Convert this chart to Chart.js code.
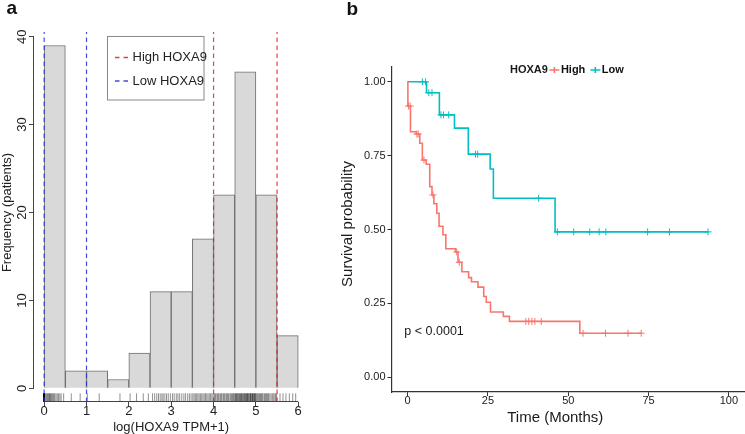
<!DOCTYPE html>
<html>
<head>
<meta charset="utf-8">
<script src="https://cdn.jsdelivr.net/npm/chart.js@4"></script>
<style>
  html, body { margin: 0; padding: 0; background: #fff; }
  #wrap { position: relative; width: 745px; height: 434px; overflow: hidden; }
  #histChart { position: absolute; left: 0; top: 0; }
  #kmChart { position: absolute; left: 335px; top: 0; }
</style>
</head>
<body>
<div id="wrap">
  <canvas id="histChart" width="330" height="434"></canvas>
  <canvas id="kmChart" width="410" height="434"></canvas>
</div>
<script>
'use strict';

// ---- panel a: histogram of log(HOXA9 TPM+1) ----
const binStarts = [0, 0.5, 1, 1.5, 2, 2.5, 3, 3.5, 4, 4.5, 5, 5.5];
const binWidth = 0.5;
const binCounts = [39, 2, 2, 1, 4, 11, 11, 17, 22, 36, 22, 6];
const lowCutoffs = [0, 1];
const highCutoffs = [4, 5.5];

// rug of individual patients (approximate)
const rugValues = [
  0, 0, 0, 0, 0, 0, 0, 0, 0, 0, 0, 0, 0, 0, 0, 0, 0, 0, 0, 0,
  0.02, 0.04, 0.06, 0.08, 0.1, 0.12, 0.13, 0.15, 0.17, 0.19, 0.21, 0.23, 0.25, 0.28, 0.31, 0.34, 0.37, 0.4, 0.46,
  0.64, 0.85,
  1.02, 1.3,
  1.79,
  2.03, 2.18, 2.34, 2.46,
  2.56, 2.61, 2.66, 2.7, 2.74, 2.78, 2.81, 2.85, 2.89, 2.93, 2.98,
  3.03, 3.07, 3.12, 3.16, 3.2, 3.25, 3.3, 3.34, 3.39, 3.43, 3.47,
  3.51, 3.54, 3.57, 3.6, 3.63, 3.66, 3.69, 3.72, 3.75, 3.78, 3.81, 3.84, 3.87, 3.9, 3.93, 3.96, 3.99,
  4.02, 4.04, 4.06, 4.09, 4.11, 4.13, 4.16, 4.18, 4.2, 4.23, 4.25, 4.27, 4.3, 4.32, 4.34, 4.36, 4.39, 4.41, 4.43, 4.45, 4.47, 4.49,
  4.51, 4.52, 4.54, 4.55, 4.57, 4.58, 4.6, 4.61, 4.63, 4.64, 4.66, 4.67, 4.69, 4.7, 4.72, 4.73, 4.75, 4.76,
  4.78, 4.79, 4.8, 4.81, 4.83, 4.84, 4.86, 4.87, 4.88, 4.89, 4.91, 4.92, 4.93, 4.94, 4.96, 4.97, 4.98, 4.99,
  5.01, 5.03, 5.05, 5.07, 5.09, 5.11, 5.13, 5.15, 5.17, 5.2, 5.22, 5.24, 5.26, 5.28, 5.3, 5.33, 5.36, 5.39, 5.42, 5.45, 5.47, 5.49,
  5.57, 5.64, 5.71, 5.79, 5.87, 5.94
];

// ---- panel b: Kaplan-Meier curves ----
const highTimes = [0, 0.1, 0.9, 2.7, 3.8, 4.6, 5.8, 6.9, 7.6, 8.2, 9.1, 9.8, 11.0, 11.9, 14.9, 15.7, 16.9, 19.0, 19.9, 21.9, 23.7, 24.5, 25.8, 29.8, 31.7, 53.6, 72.7];
const highSurv = [1, 0.918, 0.831, 0.823, 0.792, 0.735, 0.721, 0.645, 0.617, 0.587, 0.555, 0.511, 0.482, 0.435, 0.424, 0.389, 0.357, 0.337, 0.323, 0.305, 0.273, 0.254, 0.221, 0.206, 0.189, 0.149, 0.149];
const highCensor = [0.3, 0.8, 2.9, 3.3, 5.1, 7.9, 15.3, 16.1, 36.8, 37.7, 38.7, 39.6, 41.6, 54.6, 61.6, 68.6, 72.7];

const lowTimes = [0, 5.9, 9.9, 14.6, 18.9, 25.7, 26.7, 45.9, 93.5];
const lowSurv = [1, 0.963, 0.888, 0.843, 0.755, 0.705, 0.606, 0.492, 0.492];
const lowCensor = [4.6, 5.6, 6.6, 7.6, 10.4, 11.2, 12.8, 21.1, 21.8, 40.8, 46.6, 51.7, 56.7, 59.6, 61.7, 74.7, 81.5, 93.5];

const kmTicksX = [0, 25, 50, 75, 100];
const pValueText = 'p < 0.0001';

const FONT = '"Liberation Sans", Arial, Helvetica, sans-serif';
const HIGH_COL = '#F8766D';
const LOW_COL = '#00BFC4';
const DASH_RED = 'rgba(232, 28, 28, 0.85)';
const DASH_BLUE = 'rgba(40, 40, 215, 0.85)';

function survAt(times, surv, t) {
  let s = surv[0];
  for (let i = 0; i < times.length; i++) {
    if (times[i] <= t) s = surv[i];
  }
  return s;
}

// histogram y range (R adds 4% around 0..max)
const H_YMIN = -1.56, H_YMAX = 40.56;

function cutoffDataset(label, value, color) {
  return {
    type: 'line',
    label: label,
    data: [{ x: value, y: H_YMIN }, { x: value, y: H_YMAX }],
    borderColor: color,
    borderWidth: 1.2,
    borderDash: [4.5, 3.5],
    pointRadius: 0
  };
}

const histDecor = {
  id: 'histDecor',
  afterDraw(chart) {
    const { ctx, chartArea } = chart;
    const x = chart.scales.x, y = chart.scales.y;
    ctx.save();
    ctx.strokeStyle = '#444';
    ctx.lineWidth = 1;
    // axis lines only across the tick range
    const yt = y.ticks, xt = x.ticks;
    const ax = Math.round(chartArea.left) - 0.5;
    ctx.beginPath();
    ctx.moveTo(ax, y.getPixelForValue(yt[0].value));
    ctx.lineTo(ax, y.getPixelForValue(yt[yt.length - 1].value));
    const ay = Math.round(chartArea.bottom) - 0.5;
    ctx.moveTo(x.getPixelForValue(xt[0].value), ay);
    ctx.lineTo(x.getPixelForValue(xt[xt.length - 1].value), ay);
    ctx.stroke();

    // rotated y tick labels
    ctx.fillStyle = '#222';
    ctx.font = '13px ' + FONT;
    ctx.textAlign = 'center';
    ctx.textBaseline = 'middle';
    yt.forEach((t) => {
      ctx.save();
      ctx.translate(22, y.getPixelForValue(t.value));
      ctx.rotate(-Math.PI / 2);
      ctx.fillText(String(t.value), 0, 0);
      ctx.restore();
    });

    // axis titles
    const midY = (y.getPixelForValue(yt[0].value) + y.getPixelForValue(yt[yt.length - 1].value)) / 2;
    ctx.save();
    ctx.translate(7, midY);
    ctx.rotate(-Math.PI / 2);
    ctx.fillText('Frequency (patients)', 0, 0);
    ctx.restore();
    const midX = (x.getPixelForValue(xt[0].value) + x.getPixelForValue(xt[xt.length - 1].value)) / 2;
    ctx.fillText('log(HOXA9 TPM+1)', midX, 427.5);

    // legend box
    ctx.strokeStyle = '#8a8a8a';
    ctx.strokeRect(107.5, 36.5, 96.5, 63.5);
    const entries = [chart.data.datasets[0], chart.data.datasets[2]];
    entries.forEach((ds, i) => {
      const ly = 57.5 + i * 23.5;
      ctx.strokeStyle = ds.borderColor;
      ctx.lineWidth = 1.5;
      ctx.setLineDash([4.5, 4]);
      ctx.beginPath();
      ctx.moveTo(115, ly);
      ctx.lineTo(131, ly);
      ctx.stroke();
      ctx.setLineDash([]);
      ctx.textAlign = 'left';
      ctx.fillStyle = '#222';
      ctx.fillText(ds.label, 132.5, ly);
    });

    // panel letter
    ctx.font = 'bold 19px ' + FONT;
    ctx.textBaseline = 'alphabetic';
    ctx.fillStyle = '#111';
    ctx.fillText('a', 6.5, 13.5);
    ctx.restore();
  }
};

new Chart(document.getElementById('histChart'), {
  type: 'bar',
  data: {
    datasets: [
      cutoffDataset('High HOXA9', highCutoffs[0], DASH_RED),
      cutoffDataset('High HOXA9', highCutoffs[1], DASH_RED),
      cutoffDataset('Low HOXA9', lowCutoffs[0], DASH_BLUE),
      cutoffDataset('Low HOXA9', lowCutoffs[1], DASH_BLUE),
      {
        type: 'scatter',
        label: 'rug',
        data: rugValues.map((v) => ({ x: v, y: -1.06 })),
        pointStyle: 'line',
        rotation: 90,
        pointRadius: 4.3,
        borderColor: 'rgba(0,0,0,0.55)',
        pointBorderColor: 'rgba(0,0,0,0.55)',
        pointBorderWidth: 0.8,
        borderWidth: 0.8
      },
      {
        type: 'bar',
        label: 'count',
        data: binStarts.map((s, i) => ({ x: s + binWidth / 2, y: binCounts[i] })),
        backgroundColor: '#d9d9d9',
        borderColor: '#6f6f6f',
        borderWidth: 1,
        barPercentage: 1,
        categoryPercentage: 1
      }
    ]
  },
  options: {
    responsive: false,
    animation: false,
    devicePixelRatio: 1,
    layout: { autoPadding: false, padding: { top: 31.8, right: 21.6, left: 0, bottom: 0 } },
    plugins: {
      legend: { display: false },
      tooltip: { enabled: false }
    },
    scales: {
      x: {
        type: 'linear',
        min: -0.24,
        max: 6.24,
        offset: false,
        border: { display: false },
        grid: { offset: false, drawOnChartArea: false, tickLength: 5, color: '#444' },
        ticks: {
          stepSize: 1,
          includeBounds: false,
          padding: -2,
          color: '#222',
          font: { family: FONT, size: 13, lineHeight: 1 },
          maxRotation: 0
        },
        afterFit: (scale) => { scale.height = 32; }
      },
      y: {
        type: 'linear',
        min: H_YMIN,
        max: H_YMAX,
        border: { display: false },
        grid: { drawOnChartArea: false, tickLength: 5, color: '#444' },
        ticks: { stepSize: 10, includeBounds: false, display: false },
        afterFit: (scale) => { scale.width = 34; }
      }
    }
  },
  plugins: [histDecor]
});

// ---- panel b ----
const kmDecor = {
  id: 'kmDecor',
  afterDraw(chart) {
    const { ctx } = chart;
    const x = chart.scales.x, y = chart.scales.y;
    ctx.save();
    ctx.fillStyle = '#1a1a1a';
    ctx.font = '15px ' + FONT;
    ctx.textAlign = 'center';
    ctx.textBaseline = 'middle';
    ctx.save();
    ctx.translate(13, 224);
    ctx.rotate(-Math.PI / 2);
    ctx.fillText('Survival probability', 0, 0);
    ctx.restore();
    ctx.fillText('Time (Months)', 220.3, 418);

    // p value
    ctx.font = '12.5px ' + FONT;
    ctx.textAlign = 'left';
    ctx.fillText(pValueText, x.getPixelForValue(-1), y.getPixelForValue(0.154));

    // legend
    ctx.font = 'bold 11px ' + FONT;
    let lx = 175;
    const ly = 70;
    ctx.fillText('HOXA9', lx, ly);
    lx += ctx.measureText('HOXA9').width + 1.5;
    [chart.data.datasets[0], chart.data.datasets[1]].forEach((ds) => {
      ctx.strokeStyle = ds.borderColor;
      ctx.lineWidth = 1.6;
      ctx.beginPath();
      ctx.moveTo(lx, ly);
      ctx.lineTo(lx + 10, ly);
      ctx.moveTo(lx + 5, ly - 3);
      ctx.lineTo(lx + 5, ly + 3);
      ctx.stroke();
      ctx.fillStyle = '#111';
      ctx.fillText(ds.label, lx + 11.5, ly);
      lx += 11.5 + ctx.measureText(ds.label).width + 5;
    });

    ctx.font = 'bold 19px ' + FONT;
    ctx.textBaseline = 'alphabetic';
    ctx.fillText('b', 11.5, 14.5);
    ctx.restore();
  }
};

function censorDataset(label, times, surv, cens, color) {
  return {
    type: 'line',
    label: label,
    data: cens.map((t) => ({ x: t, y: survAt(times, surv, t) })),
    showLine: false,
    pointStyle: 'cross',
    pointRadius: 3.5,
    pointBorderColor: color,
    pointBorderWidth: 1,
    borderColor: color
  };
}

new Chart(document.getElementById('kmChart'), {
  type: 'line',
  data: {
    datasets: [
      {
        label: 'High',
        data: highTimes.map((t, i) => ({ x: t, y: highSurv[i] })),
        borderColor: HIGH_COL,
        borderWidth: 1.6,
        stepped: true,
        pointRadius: 0
      },
      {
        label: 'Low',
        data: lowTimes.map((t, i) => ({ x: t, y: lowSurv[i] })),
        borderColor: LOW_COL,
        borderWidth: 1.6,
        stepped: true,
        pointRadius: 0
      },
      censorDataset('High censored', highTimes, highSurv, highCensor, HIGH_COL),
      censorDataset('Low censored', lowTimes, lowSurv, lowCensor, LOW_COL)
    ]
  },
  options: {
    responsive: false,
    animation: false,
    devicePixelRatio: 1,
    layout: { autoPadding: false, padding: { top: 67, right: 0, left: 0, bottom: 0 } },
    plugins: {
      legend: { display: false },
      tooltip: { enabled: false }
    },
    scales: {
      x: {
        type: 'linear',
        min: -5,
        max: 105,
        border: { display: true, color: '#333', width: 1.2 },
        grid: { drawOnChartArea: false, tickLength: 4, color: '#333' },
        afterBuildTicks: (scale) => { scale.ticks = kmTicksX.map((v) => ({ value: v })); },
        ticks: {
          padding: -1,
          color: '#1a1a1a',
          font: { family: FONT, size: 11, lineHeight: 1 },
          maxRotation: 0
        },
        afterFit: (scale) => { scale.height = 42; }
      },
      y: {
        type: 'linear',
        min: -0.05,
        max: 1.05,
        border: { display: true, color: '#333', width: 1.2 },
        grid: { drawOnChartArea: false, tickLength: 4, color: '#333' },
        ticks: {
          stepSize: 0.25,
          includeBounds: false,
          padding: 2,
          color: '#1a1a1a',
          font: { family: FONT, size: 11 },
          callback: (v) => Number(v).toFixed(2)
        },
        afterFit: (scale) => { scale.width = 56.5; }
      }
    }
  },
  plugins: [kmDecor]
});
</script>
</body>
</html>
